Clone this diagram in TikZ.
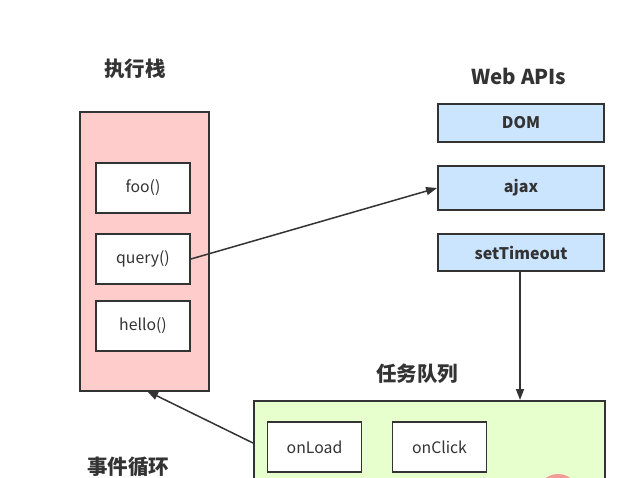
\documentclass[tikz,border=0pt]{standalone}
\usepackage{fontspec}
\setmainfont{Noto Sans CJK SC}
\usetikzlibrary{arrows.meta}
\definecolor{stackfill}{HTML}{FFCCCC}
\definecolor{apifill}{HTML}{CCE5FF}
\definecolor{queuefill}{HTML}{E6FFCC}
\definecolor{edge}{HTML}{333333}
\definecolor{dot}{HTML}{F19C99}
\tikzset{
  box/.style={draw=edge, line width=1.8pt, anchor=north west, inner sep=0pt},
  fnbox/.style={box, fill=white, minimum width=94pt, minimum height=50pt, anchor=center, font=\fontsize{15.8}{18}\selectfont, text=edge},
  apibox/.style={box, fill=apifill, minimum width=166pt, anchor=center, font=\bfseries\fontsize{16}{18}\selectfont, text=edge},
  title/.style={font=\bfseries\fontsize{20.5}{22}\selectfont, text=edge},
  conn/.style={draw=edge, line width=1.5pt, -{Triangle[length=11pt,width=8pt]}},
}
\begin{document}
\begin{tikzpicture}[x=1pt,y=-1pt]
\useasboundingbox (0,0) rectangle (636,478);
% stack
\node[box, fill=stackfill, minimum width=129pt, minimum height=279pt] (stack) at (79,111) {};
\node[title] (stacktitle) at (135,69) {执行栈};
\node[fnbox] (foo) at (143,188) {foo()};
\node[fnbox] (query) at (143,259) {query()};
\node[fnbox] (hello) at (143,326) {hello()};
% web apis
\node[title] (apititle) at (519,76) {Web APIs};
\node[apibox, minimum height=38pt] (dom) at (521,123) {DOM};
\node[apibox, minimum height=44pt] (ajax) at (521,188) {ajax};
\node[apibox, minimum height=37pt] (settimeout) at (521,252.5) {setTimeout};
% queue
\node[title] (queuetitle) at (417,374) {任务队列};
\node[box, fill=queuefill, minimum width=351pt, minimum height=120pt] (queue) at (253,400) {};
\node[fnbox] (onload) at (314.5,447) {onLoad};
\node[fnbox] (onclick) at (439.5,447) {onClick};
\fill[dot] (558,495) circle (21pt);
\node[title] (looptitle) at (128,467) {事件循环};
% connectors
\draw[conn] (query.east) -- (ajax.west);
\coordinate (qtop) at (520,400);
\draw[conn] (settimeout.south -| qtop) -- (qtop);
\coordinate (stackbot) at (147,391);
\draw[conn] (queue.west |- 0,443) -- (stackbot);
\end{tikzpicture}
\end{document}
